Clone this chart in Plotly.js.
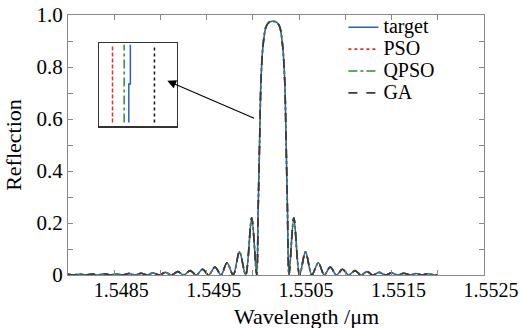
<!DOCTYPE html>
<html>
<head>
<meta charset="utf-8">
<script src="https://cdn.plot.ly/plotly-3.0.1.min.js"></script>
<style>html,body{margin:0;padding:0;background:#fff;}#chart{width:522px;height:328px;}</style>
</head>
<body>
<div id="chart"></div>
<script>
// Wavelength (µm) sample points (peaks and zeros of the spectrum)
const wavelength = [
  1.548000, 1.548065, 1.548130, 1.548195, 1.548260, 1.548325, 1.548392, 1.548458,
  1.548525, 1.548590, 1.548657, 1.548725, 1.548790, 1.548855, 1.548919, 1.548988,
  1.549055, 1.549120, 1.549187, 1.549255, 1.549320, 1.549388, 1.549455, 1.549522,
  1.549590, 1.549655, 1.549720, 1.549787, 1.549855, 1.549922, 1.549987, 1.550041,
  1.550057, 1.550072, 1.550088, 1.550109, 1.550142, 1.550174, 1.550216, 1.550258,
  1.550290, 1.550322, 1.550344, 1.550360, 1.550374, 1.550391,
  1.550443, 1.550505, 1.550569, 1.550638, 1.550708, 1.550772, 1.550837, 1.550903,
  1.550969, 1.551036, 1.551105, 1.551169, 1.551234, 1.551299, 1.551367, 1.551434,
  1.551499, 1.551565, 1.551632, 1.551699, 1.551764, 1.551829, 1.551894, 1.551959, 1.552000
];
// Reflection values (target and the three optimised results overlap in the reference)
const reflTarget = [
  0.003, 0, 0.004, 0, 0.004, 0, 0.005, 0,
  0.005, 0, 0.006, 0, 0.007, 0, 0.008, 0,
  0.010, 0, 0.013, 0, 0.017, 0, 0.022, 0,
  0.031, 0, 0.047, 0, 0.089, 0, 0.220, 0,
  0.25, 0.50, 0.75, 0.88, 0.955, 0.972, 0.976, 0.972,
  0.955, 0.88, 0.75, 0.50, 0.25, 0,
  0.220, 0, 0.089, 0, 0.047, 0, 0.031, 0,
  0.022, 0, 0.017, 0, 0.013, 0, 0.010, 0,
  0.008, 0, 0.007, 0, 0.006, 0, 0.005, 0, 0.002
];
const reflPSO = reflTarget.slice();
const reflQPSO = reflTarget.slice();
const reflGA = reflTarget.slice();

const seriesNames = ['target', 'PSO', 'QPSO', 'GA'];

// Inset (zoomed view): x positions of each curve and vertical extent
const insetY = [0.614, 0.894];
const insetPSOx = [1.5500717, 1.5500717];
const insetQPSOx = [1.5500732, 1.5500732];
const insetTargetX = [1.5500738, 1.5500738, 1.5500740, 1.5500740];
const insetTargetY = [0.614, 0.753, 0.753, 0.894];
const insetGAx = [1.5500771, 1.5500771];

const xTickVals = [1.5485, 1.5495, 1.5505, 1.5515, 1.5525];
const yTickVals = [0, 0.2, 0.4, 0.6, 0.8, 1.0];
const yTickText = ['0', '0.2', '0.4', '0.6', '0.8', '1.0'];

const SERIF = '"Liberation Serif", "Times New Roman", serif';
const colors = {target: '#2f5fb8', PSO: '#e8302a', QPSO: '#2f8a3c', GA: '#3a3a3a'};
const lg = n => '<span style="font-size:20px">' + n + '</span>';

const traces = [
  {x: wavelength, y: reflTarget, name: lg(seriesNames[0]), mode: 'lines',
   line: {color: colors.target, width: 1.6, shape: 'spline', smoothing: 0.9}},
  {x: wavelength, y: reflPSO, name: lg(seriesNames[1]), mode: 'lines',
   line: {color: colors.PSO, width: 1.6, dash: 'dot', shape: 'spline', smoothing: 0.9}},
  {x: wavelength, y: reflQPSO, name: lg(seriesNames[2]), mode: 'lines',
   line: {color: colors.QPSO, width: 1.6, dash: 'dashdot', shape: 'spline', smoothing: 0.9}},
  {x: wavelength, y: reflGA, name: lg(seriesNames[3]), mode: 'lines',
   line: {color: colors.GA, width: 1.6, dash: 'dash', shape: 'spline', smoothing: 0.9}},
  // inset
  {x: insetPSOx, y: insetY, xaxis: 'x2', yaxis: 'y2', mode: 'lines', showlegend: false,
   line: {color: colors.PSO, width: 1.5, dash: '4px,2px'}},
  {x: insetQPSOx, y: insetY, xaxis: 'x2', yaxis: 'y2', mode: 'lines', showlegend: false,
   line: {color: colors.QPSO, width: 1.5, dash: 'dashdot'}},
  {x: insetTargetX, y: insetTargetY, xaxis: 'x2', yaxis: 'y2', mode: 'lines', showlegend: false,
   line: {color: colors.target, width: 1.5}},
  {x: insetGAx, y: insetY, xaxis: 'x2', yaxis: 'y2', mode: 'lines', showlegend: false,
   line: {color: '#111', width: 1.5, dash: 'dot'}}
];

const axisColor = '#8a8a8a';
const layout = {
  width: 522, height: 328,
  margin: {l: 68, r: 38, t: 14, b: 53},
  paper_bgcolor: '#ffffff', plot_bgcolor: '#ffffff',
  font: {family: SERIF, size: 20, color: '#000'},
  showlegend: true,
  legend: {x: 0.662, xanchor: 'left', y: 1.01, yanchor: 'top', bgcolor: 'rgba(0,0,0,0)',
           font: {family: SERIF, size: 14.5, color: '#000'}, itemwidth: 30, tracegroupgap: 0},
  xaxis: {
    range: [1.548, 1.5525], tickmode: 'array', tickvals: xTickVals, tickformat: '.4f',
    ticks: 'inside', ticklen: 5, tickcolor: axisColor, showline: true, linecolor: axisColor,
    linewidth: 1, mirror: 'ticks', showgrid: false, zeroline: false, ticklabelshift: 7,
    ticklabelstandoff: -3,
    tickfont: {family: SERIF, size: 20, color: '#000'},
    minor: {tickmode: 'linear', tick0: 1.548, dtick: 0.0005, ticks: 'inside', ticklen: 5,
            tickcolor: axisColor, showgrid: false}
  },
  yaxis: {
    range: [0, 1], tickmode: 'array', tickvals: yTickVals, ticktext: yTickText,
    ticks: 'inside', ticklen: 5, tickcolor: axisColor, showline: true, linecolor: axisColor,
    linewidth: 1, mirror: 'ticks', showgrid: false, zeroline: false,
    tickfont: {family: SERIF, size: 21, color: '#000'},
    title: {text: 'Reflection', font: {family: SERIF, size: 22, color: '#000'}, standoff: 8},
    minor: {tickmode: 'linear', tick0: 0, dtick: 0.1, ticks: 'inside', ticklen: 5,
            tickcolor: axisColor, showgrid: false}
  },
  xaxis2: {
    domain: [0.0752, 0.262], anchor: 'y2', range: [1.55007, 1.55008],
    showticklabels: false, ticks: '', showgrid: false, zeroline: false,
    showline: true, mirror: true, linecolor: '#333', linewidth: 1.3
  },
  yaxis2: {
    domain: [0.572, 0.8916], anchor: 'x2', range: [0.6, 0.9],
    showticklabels: false, ticks: '', showgrid: false, zeroline: false,
    showline: true, mirror: true, linecolor: '#333', linewidth: 1.3
  },
  annotations: [
    {x: 1.549074, y: 0.747, xref: 'x', yref: 'y', ax: 1.550030, ay: 0.600,
     axref: 'x', ayref: 'y', text: '', showarrow: true, arrowhead: 2, arrowsize: 1.6,
     arrowwidth: 1.1, arrowcolor: '#000'},
    {x: 0.5745, y: -0.158, xref: 'paper', yref: 'paper', xanchor: 'center', yanchor: 'middle',
     text: 'Wavelength /μm', showarrow: false, font: {family: SERIF, size: 22, color: '#000'}}
  ]
};

Plotly.newPlot('chart', traces, layout, {displayModeBar: false, staticPlot: true});
</script>
</body>
</html>
